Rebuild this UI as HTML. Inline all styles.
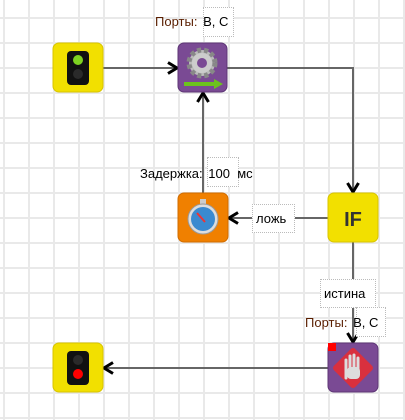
<!DOCTYPE html><html><head><style>
body{margin:0;width:405px;height:420px;overflow:hidden;background:#fff;font-family:"Liberation Sans","DejaVu Sans",sans-serif;}
.g{position:absolute;left:0;top:0;width:405px;height:420px;background-image:linear-gradient(90deg,#e9e9e9 2px,transparent 2px),linear-gradient(#e9e9e9 2px,transparent 2px);background-size:25px 25px;background-position:3px 17px;}
.t{position:absolute;font-size:13px;color:#000;white-space:nowrap}
.b{position:absolute;border:1px dotted #bbb;background:#fff}
</style></head><body><div class="g"></div>
<svg width="405" height="420" style="position:absolute;left:0;top:0">
<defs><marker id="a" markerWidth="14" markerHeight="14" refX="11" refY="7" orient="auto" markerUnits="userSpaceOnUse"><path d="M2,1.5 L11,7 L2,12.5" fill="none" stroke="#000" stroke-width="3"/></marker></defs>
<g stroke="#666" stroke-width="2" fill="none">
<path d="M103 68 H177" marker-end="url(#a)"/>
<path d="M227 68 H353 V192" marker-end="url(#a)"/>
<path d="M328 218 H229" marker-end="url(#a)"/>
<path d="M203 193 V93" marker-end="url(#a)"/>
<path d="M353 242 V342" marker-end="url(#a)"/>
<path d="M328 368 H104" marker-end="url(#a)"/>
</g>
<rect x="53" y="43" width="50" height="49" rx="6" fill="#f2e000" stroke="#d8c400"/>
<rect x="67" y="51" width="22" height="34" rx="4" fill="#111"/>
<circle cx="78" cy="60" r="5" fill="#7ed321"/><circle cx="78" cy="74" r="5" fill="#2a2a2a"/>
<rect x="178" y="43" width="49" height="49" rx="6" fill="#7a4a94" stroke="#5d3575"/>
<circle cx="202" cy="63" r="13" fill="#bbb" stroke="#888" stroke-width="5" stroke-dasharray="4 3"/>
<circle cx="202" cy="63" r="10" fill="#ccc"/><circle cx="202" cy="63" r="5" fill="#7a4a94"/>
<path d="M184 84 H216" stroke="#6cc21d" stroke-width="4"/><path d="M214 79 L223 84 L214 89Z" fill="#6cc21d"/>
<rect x="178" y="193" width="50" height="49" rx="6" fill="#f08000" stroke="#d06c00"/>
<rect x="200" y="199" width="6" height="5" fill="#ccc"/>
<circle cx="203" cy="219" r="15" fill="#ddd" stroke="#999"/><circle cx="203" cy="219" r="12" fill="#3a8ad0"/>
<path d="M197 213 L205 222" stroke="#e33" stroke-width="2"/>
<rect x="328" y="193" width="50" height="49" rx="6" fill="#f2e000" stroke="#d8c400"/>
<text x="353" y="226" font-size="20" font-weight="bold" text-anchor="middle" fill="#333" font-family="Liberation Sans">IF</text>
<rect x="328" y="343" width="50" height="49" rx="6" fill="#7a4a94" stroke="#5d3575"/>
<rect x="338" y="353" width="30" height="30" fill="#d9303e" transform="rotate(45 353 368)" rx="3"/>
<path d="M346 378 V360 M350 376 V356 M354 376 V355 M358 376 V358" stroke="#ddd" stroke-width="3" stroke-linecap="round"/>
<rect x="347" y="367" width="13" height="12" rx="4" fill="#ddd"/>
<rect x="328" y="343" width="8" height="8" fill="#f00"/>
<rect x="53" y="343" width="50" height="49" rx="6" fill="#f2e000" stroke="#d8c400"/>
<rect x="67" y="351" width="22" height="34" rx="4" fill="#111"/>
<circle cx="78" cy="360" r="5" fill="#2a2a2a"/><circle cx="78" cy="374" r="5" fill="#f00"/>
</svg>
<div class="b" style="left:203px;top:7px;width:29px;height:28px"></div>
<div class="t" style="left:155px;top:14px"><span style="color:#5a1e00">Порты:</span> <span style="margin-left:2px">B, C</span></div>
<div class="b" style="left:207px;top:157px;width:30px;height:28px"></div>
<div class="t" style="left:140px;top:166px">Задержка: <span style="margin-left:2px">100</span> &nbsp;мс</div>
<div class="b" style="left:252px;top:204px;width:41px;height:27px"></div>
<div class="t" style="left:256px;top:211px">ложь</div>
<div class="b" style="left:320px;top:279px;width:54px;height:27px"></div>
<div class="t" style="left:324px;top:286px">истина</div>
<div class="b" style="left:356px;top:307px;width:28px;height:28px"></div>
<div class="t" style="left:305px;top:315px"><span style="color:#5a1e00">Порты:</span> <span style="margin-left:2px">B, C</span></div>
</body></html>
